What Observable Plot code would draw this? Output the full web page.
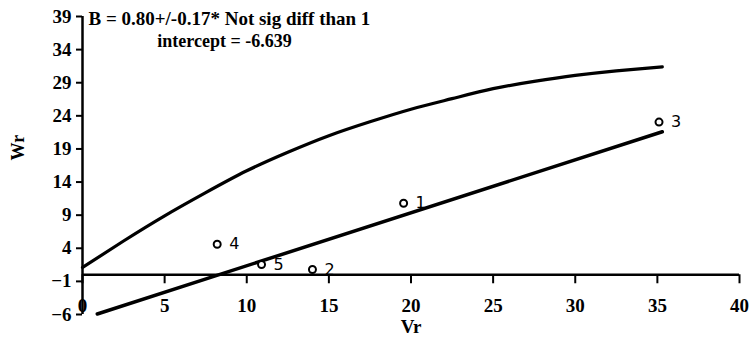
<!DOCTYPE html>
<html><head><meta charset="utf-8">
<script src="https://cdn.jsdelivr.net/npm/d3@7"></script>
<script src="https://cdn.jsdelivr.net/npm/@observablehq/plot@0.6"></script>
<style>html,body{margin:0;padding:0;background:#fff}</style>
</head><body><div id="chart"></div>
<script>
// Data
const pointLabels = ["1", "2", "3", "4", "5"];
const pointVr = [19.55, 14.0, 35.1, 8.2, 10.9];
const pointWr = [10.8, 0.8, 23.05, 4.6, 1.55];

const curveVr = [0, 2.5, 5, 7.5, 10, 12.5, 15, 17.5, 20, 22.5, 25, 27.5, 30, 32.5, 35.3];
const curveWr = [1.1, 5.1, 8.9, 12.4, 15.7, 18.5, 21.0, 23.1, 25.0, 26.6, 28.1, 29.2, 30.1, 30.8, 31.4];

const regVr = [0.9, 35.3];
const regWr = [-5.92, 21.6];

const xTicks = [0, 5, 10, 15, 20, 25, 30, 35, 40];
const yTicks = [-6, -1, 4, 9, 14, 19, 24, 29, 34, 39];

const titleLine1 = "B = 0.80+/-0.17* Not sig diff than 1";
const titleLine2 = "intercept = -6.639";
const xLabel = "Vr";
const yLabel = "Wr";

const points = pointLabels.map((l, i) => ({label: l, x: pointVr[i], y: pointWr[i]}));
const curve = curveVr.map((x, i) => ({x, y: curveWr[i]}));
const reg = regVr.map((x, i) => ({x, y: regWr[i]}));

const serif = "'Liberation Serif', 'Times New Roman', serif";

const chart = Plot.plot({
  width: 749,
  height: 339,
  marginLeft: 82,
  marginRight: 10,
  marginTop: 16,
  marginBottom: 25,
  x: {domain: [0, 40]},
  y: {domain: [-6, 39]},
  style: {fontFamily: serif, fontSize: "19px", fontWeight: "bold", background: "#fff", color: "#000", overflow: "visible"},
  marks: [
    Plot.axisY({ticks: yTicks, tickSize: 6, tickPadding: 5, label: null, strokeWidth: 2, fontSize: 19}),
    Plot.axisX({ticks: xTicks, tickSize: 0, tickPadding: 0, dy: -16, label: null, fontSize: 19}),
    Plot.ruleX([0], {strokeWidth: 2.5}),
    Plot.ruleY([0], {strokeWidth: 2.5}),
    Plot.ruleX(xTicks, {x: d => d, y1: 0, y2: 0, insetBottom: -9, strokeWidth: 2}),
    Plot.line(curve, {x: "x", y: "y", curve: "natural", strokeWidth: 3.2}),
    Plot.line(reg, {x: "x", y: "y", strokeWidth: 3.5}),
    Plot.dot(points, {x: "x", y: "y", r: 3.5, stroke: "#000", strokeWidth: 2, fill: "#fff"}),
    Plot.text(points, {x: "x", y: "y", text: "label", dx: 12, dy: 0, textAnchor: "start", fontSize: 16, fontWeight: "normal", fontFamily: "'DejaVu Sans', sans-serif"}),
    Plot.text([titleLine1], {frameAnchor: "top-left", dx: 6, dy: 2, textAnchor: "start", lineAnchor: "middle", fontSize: 19}),
    Plot.text([titleLine2], {frameAnchor: "top-left", dx: 142, dy: 25, textAnchor: "middle", lineAnchor: "middle", fontSize: 18}),
    Plot.text([xLabel], {frameAnchor: "bottom", dy: 12, lineAnchor: "middle", fontSize: 19}),
    Plot.text([yLabel], {frameAnchor: "left", dx: -64, dy: -5, rotate: -90, lineAnchor: "middle", fontSize: 18})
  ]
});
document.getElementById("chart").appendChild(chart);
</script>
</body></html>
